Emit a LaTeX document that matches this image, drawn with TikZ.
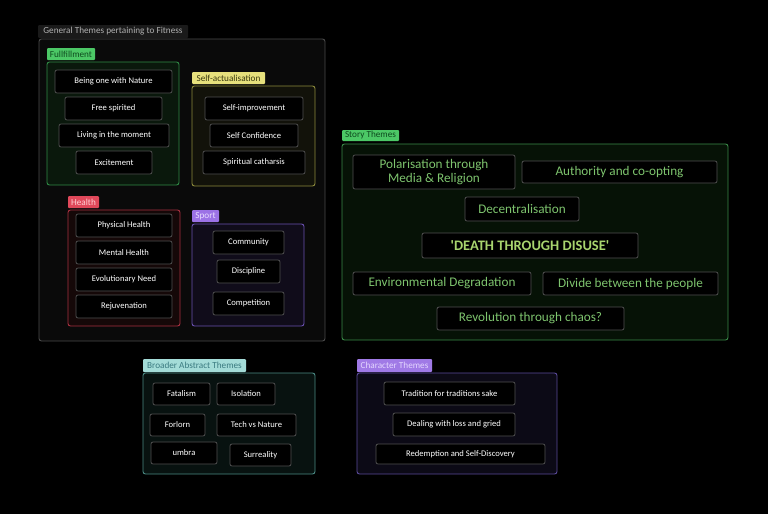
\documentclass[tikz,border=0pt]{standalone}
\usepackage{fontspec}
\setmainfont{Carlito}
\definecolor{itemb}{HTML}{505050}
\definecolor{storyt}{HTML}{7EC46E}
\definecolor{deatht}{HTML}{A8D46E}
\definecolor{genlabf}{HTML}{1A1A1A}
\definecolor{genlabt}{HTML}{B0B0B0}
\definecolor{gend}{HTML}{4A4A4A}
\definecolor{genf}{HTML}{0A0A0A}
\definecolor{greentag}{HTML}{4CC866}
\definecolor{greentagt}{HTML}{0E4A1E}
\definecolor{fuld}{HTML}{2F8A45}
\definecolor{fulf}{HTML}{0A180C}
\definecolor{saltagf}{HTML}{E6E07C}
\definecolor{saltagt}{HTML}{3A3A10}
\definecolor{sald}{HTML}{8C8A3C}
\definecolor{salf}{HTML}{12120A}
\definecolor{heatagf}{HTML}{E0485A}
\definecolor{heatagt}{HTML}{FFD0D4}
\definecolor{head}{HTML}{A83040}
\definecolor{heaf}{HTML}{150808}
\definecolor{spotagf}{HTML}{9C72E6}
\definecolor{spotagt}{HTML}{E8DCFF}
\definecolor{spod}{HTML}{6A50B0}
\definecolor{spof}{HTML}{100C1A}
\definecolor{std}{HTML}{3A8A48}
\definecolor{stf}{HTML}{061206}
\definecolor{brtagf}{HTML}{A4DCD8}
\definecolor{brtagt}{HTML}{3A7A80}
\definecolor{brd}{HTML}{4A8A84}
\definecolor{brf}{HTML}{081210}
\definecolor{chtagf}{HTML}{A07AE6}
\definecolor{chtagt}{HTML}{E4D6FF}
\definecolor{chd}{HTML}{5A4A9A}
\definecolor{chf}{HTML}{0C0A16}
\begin{document}
\begin{tikzpicture}[x=1pt,y=-1pt,
  item/.style={draw=itemb, fill=black, rounded corners=2pt, line width=0.8pt, text=white!90, font=\fontsize{8.6}{10}\selectfont, inner sep=0pt, align=center},
  sitem/.style={item, text=storyt, font=\fontsize{13.2}{13.5}\selectfont},
  group/.style={rounded corners=2.5pt, line width=0.9pt, inner sep=0pt},
  tag/.style={rounded corners=1pt, inner sep=0pt, font=\fontsize{9.2}{10}\selectfont}
]
\newcommand\bx[7]{\node[#2, minimum width={(#5-#3)*1pt}, minimum height={(#6-#4)*1pt}] (#1) at ({(#3+#5)/2},{(#4+#6)/2}) {#7};}
\fill[black] (0,0) rectangle (768,514);
\useasboundingbox (0,0) rectangle (768,514);

% outer general group
\bx{genlab}{tag, fill=genlabf, text=genlabt}{38}{25}{188}{38}{General Themes pertaining to Fitness}
\bx{gen}{group, draw=gend, fill=genf}{39}{39}{325}{341}{}

% Fulfillment
\bx{fultag}{tag, fill=greentag, text=greentagt}{47}{48}{95}{60}{Fullfillment}
\bx{ful}{group, draw=fuld, fill=fulf}{47}{62}{179}{185}{}
\bx{f1}{item}{55}{70}{172}{93}{Being one with Nature}
\bx{f2}{item}{65}{97}{162}{120}{Free spirited}
\bx{f3}{item}{59}{124}{169}{147}{Living in the moment}
\bx{f4}{item}{76}{151}{152}{174}{Excitement}

% Self-actualisation
\bx{saltag}{tag, fill=saltagf, text=saltagt}{192}{72}{265}{84}{Self-actualisation}
\bx{sal}{group, draw=sald, fill=salf}{192}{86}{315}{186}{}
\bx{s1}{item}{205}{97}{303}{120}{Self-improvement}
\bx{s2}{item}{210}{124}{298}{147}{Self Confidence}
\bx{s3}{item}{203}{151}{305}{174}{Spiritual catharsis}

% Health
\bx{heatag}{tag, fill=heatagf, text=heatagt}{68}{196}{99}{208}{Health}
\bx{hea}{group, draw=head, fill=heaf}{68}{210}{180}{326}{}
\bx{h1}{item}{76}{214}{172}{237}{Physical Health}
\bx{h2}{item}{76}{241}{172}{264}{Mental Health}
\bx{h3}{item}{76}{268}{172}{291}{Evolutionary Need}
\bx{h4}{item}{76}{295}{172}{318}{Rejuvenation}

% Sport
\bx{spotag}{tag, fill=spotagf, text=spotagt}{192}{210}{219}{222}{Sport}
\bx{spo}{group, draw=spod, fill=spof}{192}{224}{304}{326}{}
\bx{p1}{item}{213}{231}{284}{254}{Community}
\bx{p2}{item}{217}{260}{280}{283}{Discipline}
\bx{p3}{item}{213}{292}{284}{315}{Competition}

% Story Themes
\bx{sttag}{tag, fill=greentag, text=greentagt}{342}{130}{399}{141}{Story Themes}
\bx{st}{group, draw=std, fill=stf}{342}{144}{728}{340}{}
\bx{t1}{sitem}{353}{155}{515}{189}{Polarisation through\\Media \& Religion}
\bx{t2}{sitem}{522}{161}{717}{183}{Authority and co-opting}
\bx{t3}{sitem}{465}{197}{579}{221}{Decentralisation}
\bx{t4}{item, text=deatht, font=\fontsize{14.5}{15}\selectfont\bfseries}{422}{233}{638}{258}{\textquotesingle DEATH THROUGH DISUSE\textquotesingle}
\bx{t5}{sitem}{353}{272}{531}{295}{Environmental Degradation}
\bx{t6}{sitem}{543}{272}{718}{295}{Divide between the people}
\bx{t7}{sitem}{437}{307}{624}{330}{Revolution through chaos?}

% Broader Abstract Themes
\bx{brtag}{tag, fill=brtagf, text=brtagt}{143}{359}{246}{372}{Broader Abstract Themes}
\bx{br}{group, draw=brd, fill=brf}{143}{373}{315}{474}{}
\bx{b1}{item}{153}{383}{210}{405}{Fatalism}
\bx{b2}{item}{217}{383}{275}{405}{Isolation}
\bx{b3}{item}{150}{414}{205}{436}{Forlorn}
\bx{b4}{item}{217}{414}{296}{436}{Tech vs Nature}
\bx{b5}{item}{151}{442}{217}{464}{umbra}
\bx{b6}{item}{230}{444}{291}{466}{Surreality}

% Character Themes
\bx{chtag}{tag, fill=chtagf, text=chtagt}{357}{359}{432}{372}{Character Themes}
\bx{ch}{group, draw=chd, fill=chf}{357}{373}{557}{474}{}
\bx{c1}{item}{384}{382}{515}{405}{Tradition for traditions sake}
\bx{c2}{item}{393}{413}{515}{436}{Dealing with loss and gried}
\bx{c3}{item}{376}{444}{545}{464}{Redemption and Self-Discovery}
\end{tikzpicture}
\end{document}
